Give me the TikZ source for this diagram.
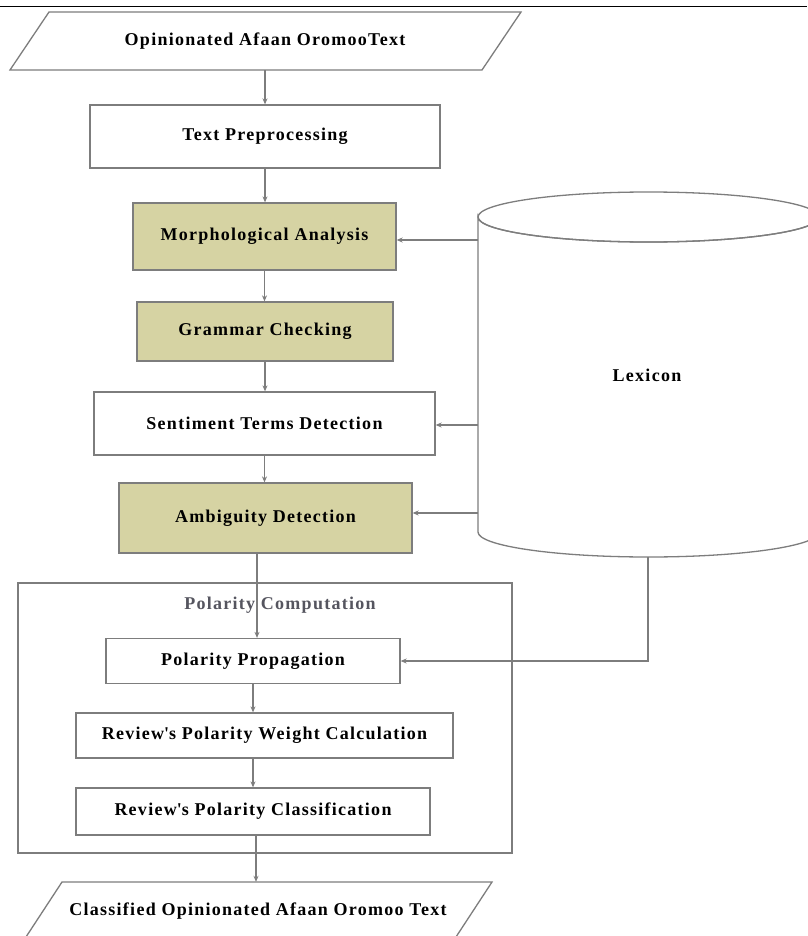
\documentclass[tikz,border=0pt]{standalone}
\usepackage{fontspec}
\setmainfont{Liberation Serif}[LetterSpace=7]
\usetikzlibrary{arrows.meta}
\definecolor{linegray}{RGB}{125,125,125}
\definecolor{boxolive}{RGB}{214,211,163}
\definecolor{labgray}{RGB}{85,85,95}
\begin{document}
\begin{tikzpicture}[x=1pt,y=-1pt,
  every node/.style={font=\bfseries\fontsize{18}{21}\selectfont, inner sep=0pt},
  box/.style={draw=linegray, line width=1.3pt, fill=white},
  obox/.style={box, fill=boxolive},
  arr/.style={draw=linegray, line width=1.3pt, -{Stealth[length=6pt,width=5pt]}},
  ln/.style={draw=linegray, line width=1.3pt}]
\useasboundingbox (0,0) rectangle (807,936);
\fill[white] (0,0) rectangle (807,936);
\draw[black, line width=1.5pt] (0,6.5) -- (807,6.5);

% input parallelogram
\draw[box] (49,12) -- (521,12) -- (482,70) -- (10,70) -- cycle;
\node[minimum height=58pt] (in) at (265,41) {Opinionated Afaan OromooText};

\node[box, minimum width=350pt, minimum height=63pt] (tp) at (265,136.5) {Text Preprocessing};
\node[obox, minimum width=263pt, minimum height=67pt] (ma) at (264.5,236.5) {Morphological Analysis};
\node[obox, minimum width=256pt, minimum height=59pt] (gc) at (265,331.5) {Grammar Checking};
\node[box, minimum width=341pt, minimum height=63pt] (st) at (264.5,423.5) {Sentiment Terms Detection};
\node[obox, minimum width=293pt, minimum height=70pt] (ad) at (265.5,518) {Ambiguity Detection};

% polarity computation group
\node[box, fill=none, minimum width=494pt, minimum height=270pt] (pc) at (265,718) {};
\node[text=labgray] (pcl) at (280,605) {Polarity Computation};
\node[box, minimum width=294pt, minimum height=45pt] (pp) at (253,661) {Polarity Propagation};
\node[box, minimum width=377pt, minimum height=45pt] (rw) at (264.5,735.5) {Review\textquotesingle s Polarity Weight Calculation};
\node[box, minimum width=354pt, minimum height=47pt] (rc) at (253,811.5) {Review\textquotesingle s Polarity Classification};

% output parallelogram
\draw[box] (62,882) -- (492,882) -- (454,940) -- (24,940) -- cycle;
\node[minimum height=58pt] (out) at (258,911) {Classified Opinionated Afaan Oromoo Text};

% lexicon cylinder
\draw[ln, fill=white] (478,217) -- (478,532) arc[start angle=180, end angle=0, x radius=170.5, y radius=25]
  -- (819,217) arc[start angle=0, end angle=180, x radius=170.5, y radius=25] -- cycle;
\draw[ln] (648.5,217) ellipse [x radius=170.5, y radius=25];
\node (lex) at (647,375) {Lexicon};
\coordinate (cylL) at (478,300);
\coordinate (cylB) at (648,557);
\coordinate (maE) at ([yshift=-3.5pt]ma.east);
\coordinate (stE) at ([yshift=-1.5pt]st.east);
\coordinate (adE) at ([yshift=5pt]ad.east);

% main flow
\draw[arr] (in.south) -- (tp.north);
\draw[arr] (tp.south) -- (tp.south |- ma.north);
\draw[arr] (ma.south) -- (ma.south |- gc.north);
\draw[arr] (gc.south) -- (gc.south |- st.north);
\draw[arr] (st.south) -- (st.south |- ad.north);
\draw[arr] ([xshift=-8.5pt]ad.south) -- ([xshift=-8.5pt]ad.south |- pp.north);
\draw[arr] (pp.south) -- (pp.south |- rw.north);
\draw[arr] (rc.north |- rw.south) -- (rc.north);
\draw[arr] ([xshift=3pt]rc.south) -- ([xshift=3pt]rc.south |- out.north);

% lexicon links
\draw[arr] (cylL |- maE) -- (maE);
\draw[arr] (cylL |- stE) -- (stE);
\draw[arr] (cylL |- adE) -- (adE);
\draw[arr] (cylB) |- (pp.east);
\end{tikzpicture}
\end{document}
